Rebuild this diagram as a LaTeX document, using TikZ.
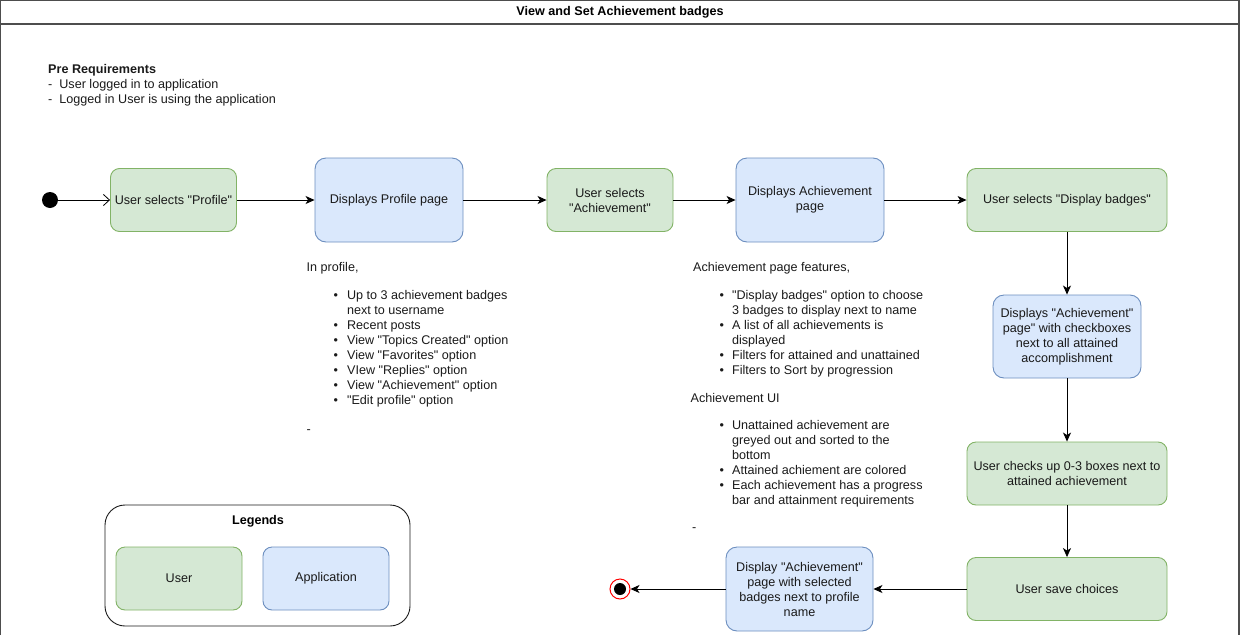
\documentclass[tikz,border=0pt]{standalone}
\usepackage{fontspec}
\setmainfont{Liberation Sans}[Ligatures=TeXReset]
\usepackage{xcolor}
\usepackage{tikz}
\usetikzlibrary{arrows.meta}
\definecolor{usrfill}{HTML}{D5E8D4}
\definecolor{usrline}{HTML}{82B366}
\definecolor{appfill}{HTML}{DAE8FC}
\definecolor{appline}{HTML}{6C8EBF}
\definecolor{frameline}{HTML}{4D4D4D}
\definecolor{ink}{HTML}{1A1A1A}
\tikzset{
  usrbox/.style={draw=usrline, fill=usrfill, line width=0.9pt, rounded corners=9pt, align=center, text=ink, minimum width=126pt, minimum height=63pt, inner sep=2pt},
  appbox/.style={draw=appline, fill=appfill, line width=0.9pt, rounded corners=11pt, align=center, text=ink, minimum width=148pt, minimum height=84pt, inner sep=2pt},
  widebox/.style={minimum width=200pt},
  flow/.style={draw=black, line width=0.8pt, -{Stealth[length=9pt, width=8pt, inset=2.5pt]}},
  openflow/.style={draw=black, line width=0.8pt, -{Straight Barb[length=6pt, width=11pt]}},
  note/.style={anchor=north west, inner sep=0pt, text=ink},
  boldlab/.style={font=\fontsize{12.6}{15}\selectfont\bfseries, text=black},
  pt/.style={circle, fill=black, inner sep=0pt, minimum size=16pt},
}

\begin{document}
\begin{tikzpicture}[x=1pt, y=-1pt, font=\fontsize{12.6}{15}\selectfont]
  \useasboundingbox (0,0) rectangle (1240,635);
  \draw[frameline, line width=1.2pt] (0.6,635) -- (0.6,0.6) -- (1238.9,0.6) -- (1238.9,635);
  \draw[frameline, line width=1.2pt] (0.6,24) -- (1238.9,24);
  \node[boldlab] (title) at (620,12.5) {View and Set Achievement badges};

  \node[note] (prereq) at (48,62.5) {\begin{tabular}{@{}l@{}}
    \textbf{Pre Requirements}\\
    -\hspace{7pt}User logged in to application\\[0.5pt]
    -\hspace{7pt}Logged in User is using the application
  \end{tabular}};

  \node[pt] (init) at (50,200) {};
  \node[usrbox] (selprof) at (173.5,200) {User selects "Profile"};
  \node[appbox] (profpage) at (389,200) {Displays Profile page};
  \node[usrbox] (selach) at (610,200) {User selects\\"Achievement"};
  \node[appbox] (achpage) at (810,200) {Displays Achievement\\page};
  \node[usrbox, widebox] (selbadge) at (1067,200) {User selects "Display badges"};
  \node[appbox, minimum height=83pt] (chkpage) at (1067,336.5) {Displays "Achievement"\\page" with checkboxes\\next to all attained\\accomplishment};
  \node[usrbox, widebox] (chkbox) at (1067,473.5) {User checks up 0-3 boxes next to\\attained achievement};
  \node[usrbox, widebox] (save) at (1067,589) {User save choices};
  \node[appbox, minimum width=147pt] (showbadge) at (799.5,589) {Display "Achievement"\\page with selected\\badges next to profile\\name};
  \node[circle, draw=red, fill=white, line width=1pt, minimum size=20pt, inner sep=0pt] (final) at (620,589) {};
  \node[pt, minimum size=12pt] (finaldot) at (final) {};

  \draw[openflow] (init) -- (selprof);
  \draw[flow] (selprof) -- (profpage);
  \draw[flow] (profpage) -- (selach);
  \draw[flow] (selach) -- (achpage);
  \draw[flow] (achpage) -- (selbadge);
  \draw[flow] (selbadge) -- (chkpage);
  \draw[flow] (chkpage) -- (chkbox);
  \draw[flow] (chkbox) -- (save);
  \draw[flow] (save) -- (showbadge);
  \draw[flow] (showbadge) -- (final);

  \node[note] (profnote) at (306.5,261) {\begin{tabular}{@{\hspace{27pt}}c@{\hspace{9pt}}l@{}}
    \multicolumn{2}{@{}l@{}}{In profile,}\\[13pt]
    \textbullet & Up to 3 achievement badges\\
                & next to username\\
    \textbullet & Recent posts\\
    \textbullet & View "Topics Created" option\\
    \textbullet & View "Favorites" option\\
    \textbullet & VIew "Replies" option\\
    \textbullet & View "Achievement" option\\
    \textbullet & "Edit profile" option\\[14pt]
    \multicolumn{2}{@{}l@{}}{-}
  \end{tabular}};

  \node[note] (achnote) at (690.5,261) {\begin{tabular}{@{\hspace{29pt}}c@{\hspace{8pt}}l@{}}
    \multicolumn{2}{@{}l@{}}{\hspace{2.5pt}Achievement page features,}\\[13pt]
    \textbullet & "Display badges" option to choose\\
                & 3 badges to display next to name\\
    \textbullet & A list of all achievements is\\
                & displayed\\
    \textbullet & Filters for attained and unattained\\
    \textbullet & Filters to Sort by progression\\[13pt]
    \multicolumn{2}{@{}l@{}}{Achievement UI}\\[12pt]
    \textbullet & Unattained achievement are\\
                & greyed out and sorted to the\\
                & bottom\\
    \textbullet & Attained achiement are colored\\
    \textbullet & Each achievement has a progress\\
                & bar and attainment requirements\\[12pt]
    \multicolumn{2}{@{}l@{}}{\hspace{1.5pt}-}
  \end{tabular}};

  \node[draw=ink, line width=0.9pt, rounded corners=20pt, minimum width=305pt, minimum height=121pt] (legend) at (257.5,565.5) {};
  \node[boldlab] (legendtitle) at (258,521) {Legends};
  \node[usrbox] (legusr) at (179,578.5) {User};
  \node[appbox, minimum width=126pt, minimum height=63pt, rounded corners=9pt] (legapp) at (326,578.5) {Application};
\end{tikzpicture}
\end{document}
